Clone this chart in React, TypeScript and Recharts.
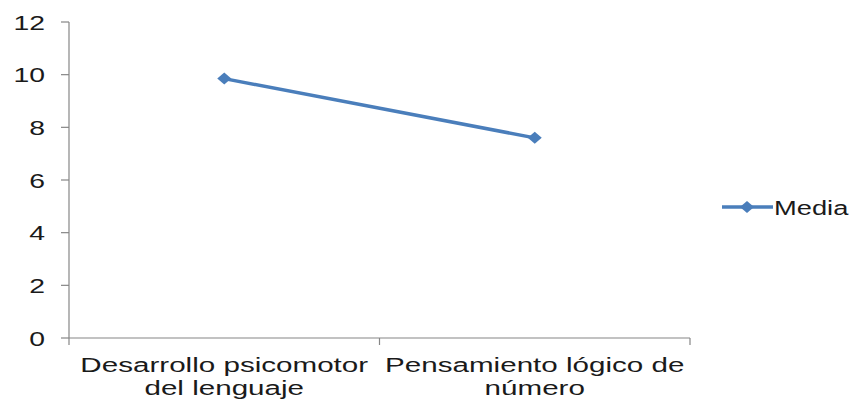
import React from 'react';
import { LineChart, Line, XAxis, YAxis, Legend } from 'recharts';

const categoryLines: string[][] = [
  ['Desarrollo psicomotor', 'del lenguaje'],
  ['Pensamiento lógico de', 'número'],
];
const mediaValues: number[] = [9.85, 7.6];
const yTicks: number[] = [0, 2, 4, 6, 8, 10, 12];
const seriesName = 'Media';

const data = categoryLines.map((lines, i) => ({
  pos: i + 0.5,
  label: lines.join(' '),
  media: mediaValues[i],
}));

const xTicks: number[] = [];
for (let i = 0; i <= categoryLines.length; i++) {
  xTicks.push(i);
  if (i < categoryLines.length) xTicks.push(i + 0.5);
}

const BLUE = '#4a7ebb';
const AXIS = '#868686';
const TEXT = '#1a1a1a';
const FONT = '"Liberation Sans", Arial, sans-serif';

const XTick = (props: any) => {
  const { x, y, payload } = props;
  const v = payload.value as number;
  if (Number.isInteger(v)) {
    return <line x1={x} y1={y} x2={x} y2={y + 7} stroke={AXIS} strokeWidth={1.2} />;
  }
  const lines = categoryLines[Math.floor(v)] || [];
  return (
    <g transform={`translate(${x},${y}) scale(1.41,1)`}>
      {lines.map((t, i) => (
        <text key={i} x={0} y={34 + i * 23} textAnchor="middle" fontSize={21} fontFamily={FONT} fill={TEXT}>
          {t}
        </text>
      ))}
    </g>
  );
};

const YTick = (props: any) => {
  const { x, y, payload } = props;
  return (
    <g transform={`translate(${x},${y}) scale(1.35,1)`}>
      <text x={0} y={0} dy="0.36em" textAnchor="end" fontSize={21} fontFamily={FONT} fill={TEXT}>
        {payload.value}
      </text>
    </g>
  );
};

const Diamond = (props: any) => {
  const { cx, cy } = props;
  if (cx == null || cy == null) return null;
  return <polygon points={`${cx - 7},${cy} ${cx},${cy - 6} ${cx + 7},${cy} ${cx},${cy + 6}`} fill={BLUE} />;
};

const LegendContent = () => (
  <svg width={140} height={30}>
    <line x1={2} y1={15} x2={53} y2={15} stroke={BLUE} strokeWidth={3.5} />
    <polygon points="20,15 27,9 34,15 27,21" fill={BLUE} />
    <g transform="translate(54,15) scale(1.3,1)">
      <text x={0} y={0} dy="0.36em" fontSize={21} fontFamily={FONT} fill={TEXT}>
        {seriesName}
      </text>
    </g>
  </svg>
);

export default function App() {
  return (
    <div style={{ position: 'absolute', left: 0, top: 0, width: 861, height: 403, background: '#fff' }}>
      <LineChart width={861} height={403} data={data} margin={{ top: 22, right: 171, bottom: 0, left: 0 }}>
        <XAxis
          type="number"
          dataKey="pos"
          domain={[0, categoryLines.length]}
          ticks={xTicks}
          interval={0}
          height={65}
          tickLine={false}
          tickSize={0}
          tickMargin={0}
          axisLine={{ stroke: AXIS, strokeWidth: 1.2 }}
          tick={<XTick />}
        />
        <YAxis
          domain={[0, 12]}
          ticks={yTicks}
          interval={0}
          width={69}
          tickSize={8}
          tickMargin={16}
          tickLine={{ stroke: AXIS, strokeWidth: 1.2 }}
          axisLine={{ stroke: AXIS, strokeWidth: 1.2 }}
          tick={<YTick />}
        />
        <Legend
          layout="horizontal"
          verticalAlign="middle"
          align="center"
          content={<LegendContent />}
          wrapperStyle={{ position: 'absolute', left: 720, top: 192, width: 140 }}
        />
        <Line
          type="linear"
          dataKey="media"
          name={seriesName}
          stroke={BLUE}
          strokeWidth={3.5}
          dot={<Diamond />}
          activeDot={false}
          isAnimationActive={false}
        />
      </LineChart>
    </div>
  );
}
